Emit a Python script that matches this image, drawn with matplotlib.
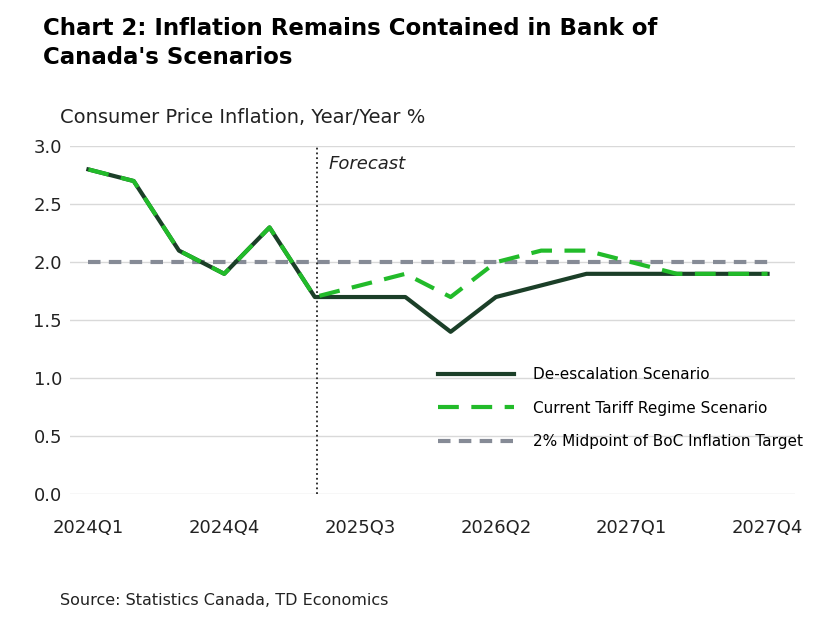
import matplotlib
matplotlib.use("Agg")
import matplotlib.pyplot as plt

quarters = ["2024Q1","2024Q2","2024Q3","2024Q4","2025Q1","2025Q2","2025Q3","2025Q4",
            "2026Q1","2026Q2","2026Q3","2026Q4","2027Q1","2027Q2","2027Q3","2027Q4"]
deesc = [2.8,2.7,2.1,1.9,2.3,1.7,1.7,1.7,1.4,1.7,1.8,1.9,1.9,1.9,1.9,1.9]
tariff = [2.8,2.7,2.1,1.9,2.3,1.7,1.8,1.9,1.7,2.0,2.1,2.1,2.0,1.9,1.9,1.9]
target = [2.0]*16
tick_labels = ["2024Q1","2024Q4","2025Q3","2026Q2","2027Q1","2027Q4"]

plt.rcParams['font.family'] = ['DejaVu Sans']
fig = plt.figure(figsize=(8.27,6.17), dpi=100)
ax = fig.add_axes([0.085,0.199,0.876,0.564])
x = list(range(len(quarters)))
ax.plot(x, target, color="#868b96", lw=3, ls=(0,(3,2)), label="2% Midpoint of BoC Inflation Target", zorder=2)
ax.plot(x, deesc, color="#1b3f28", lw=3, label="De-escalation Scenario", zorder=3)
ax.plot(x, tariff, color="#22bb2a", lw=3, ls=(0,(5,3)), label="Current Tariff Regime Scenario", zorder=4)
ax.axvline(5.05, color="#222222", ls=":", lw=1.3)
ax.text(5.3, 2.8, "Forecast", style="italic", fontsize=13, color="#222222")
ax.set_xlim(-0.4, 15.6)
ax.set_ylim(0, 3)
ax.set_yticks([0,0.5,1,1.5,2,2.5,3])
ax.set_yticklabels([f"{v:.1f}" for v in [0,0.5,1,1.5,2,2.5,3]])
ax.set_xticks([quarters.index(t) for t in tick_labels])
ax.set_xticklabels(tick_labels)
ax.tick_params(labelsize=13, length=0, pad=18, colors="#222222")
ax.tick_params(axis='y', pad=6)
ax.grid(axis='y', color="#d9d9d9", lw=1)
for s in ax.spines.values():
    s.set_visible(False)
h, l = ax.get_legend_handles_labels()
ax.legend([h[1],h[2],h[0]],[l[1],l[2],l[0]], loc="lower right", bbox_to_anchor=(1.03,0.09),
          frameon=False, fontsize=11, handlelength=5, labelspacing=1.2, handletextpad=1.2)
fig.text(0.052,0.93,"Chart 2: Inflation Remains Contained in Bank of\nCanada's Scenarios",
         fontsize=16.5, fontweight="bold", va="center", linespacing=1.3)
fig.text(0.072,0.80,"Consumer Price Inflation, Year/Year %", fontsize=14, color="#222222")
fig.text(0.072,0.02,"Source: Statistics Canada, TD Economics", fontsize=11.5, color="#222222")
fig.savefig("out.png", dpi=100)
